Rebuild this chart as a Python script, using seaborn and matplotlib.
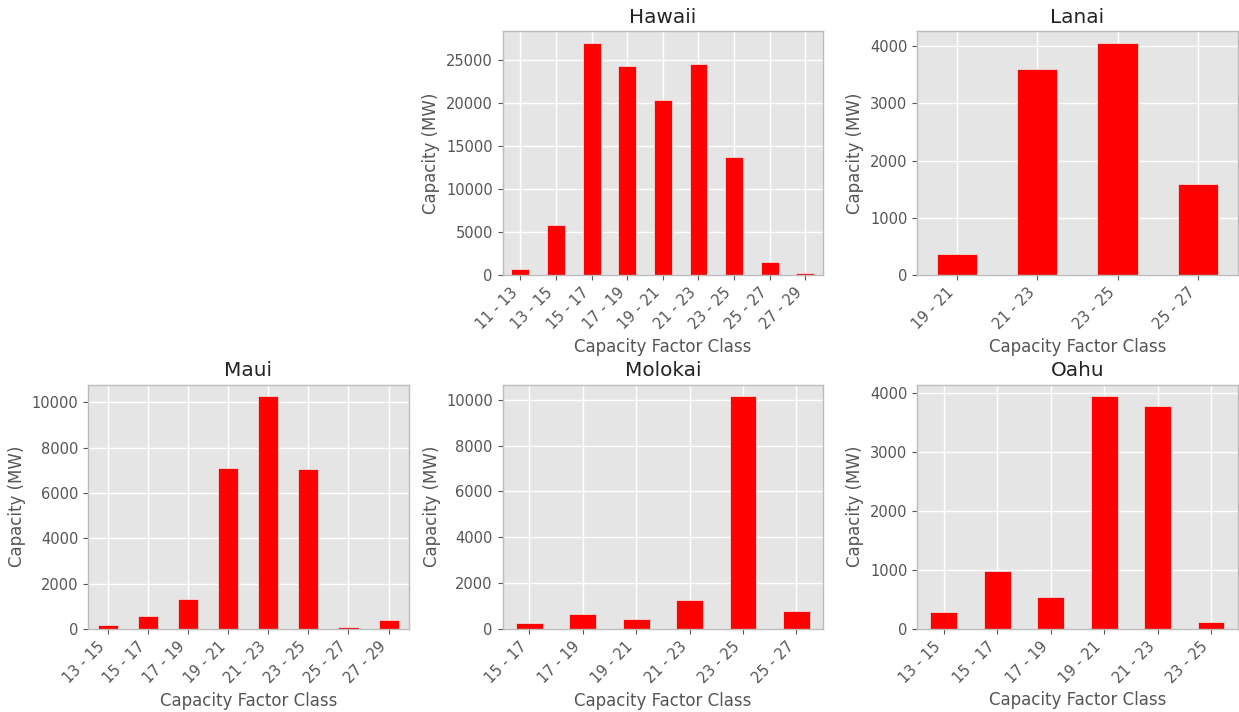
import seaborn as sns
import matplotlib.pyplot as plt
from matplotlib.ticker import MaxNLocator
import pandas as pd

# Capacity by capacity factor class for each island
hawaii_classes = ['11 - 13', '13 - 15', '15 - 17', '17 - 19', '19 - 21',
                  '21 - 23', '23 - 25', '25 - 27', '27 - 29']
hawaii_mw = [770, 5860, 26970, 24270, 20330, 24460, 13770, 1580, 310]

lanai_classes = ['19 - 21', '21 - 23', '23 - 25', '25 - 27']
lanai_mw = [377, 3600, 4058, 1597]

maui_classes = ['13 - 15', '15 - 17', '17 - 19', '19 - 21',
                '21 - 23', '23 - 25', '25 - 27', '27 - 29']
maui_mw = [190, 560, 1340, 7110, 10260, 7050, 75, 380]

molokai_classes = ['15 - 17', '17 - 19', '19 - 21', '21 - 23', '23 - 25', '25 - 27']
molokai_mw = [250, 670, 440, 1280, 10150, 800]

oahu_classes = ['13 - 15', '15 - 17', '17 - 19', '19 - 21', '21 - 23', '23 - 25']
oahu_mw = [288, 983, 542, 3938, 3774, 124]

islands = ['Hawaii', 'Lanai', 'Maui', 'Molokai', 'Oahu']
classes = [hawaii_classes, lanai_classes, maui_classes, molokai_classes, oahu_classes]
values = [hawaii_mw, lanai_mw, maui_mw, molokai_mw, oahu_mw]

plt.style.use('ggplot')
plt.rcParams['font.family'] = ['DejaVu Sans']

fig, axes = plt.subplots(2, 3, figsize=(12.39, 7.12), dpi=100)
plt.subplots_adjust(left=0.071, right=0.999, top=0.9565, bottom=0.1166,
                    wspace=0.293, hspace=0.447)

axes[0, 0].axis('off')

for ax, name, cats, vals in zip(axes.flat[1:], islands, classes, values):
    df = pd.DataFrame({'cf_class': cats, 'capacity': vals})
    sns.barplot(data=df, x='cf_class', y='capacity', color='red', saturation=1,
                width=0.5, edgecolor='#EEEEEE', linewidth=0.5, ax=ax)
    ax.grid(True, color='white', linewidth=1)
    ax.set_axisbelow(True)
    ax.set_xlim(-0.5, len(cats) - 0.5)
    ax.yaxis.set_major_locator(MaxNLocator(nbins=6, steps=[1, 2, 2.5, 5, 10]))
    ax.set_title(name, fontsize=14.4, color='#222222')
    ax.set_xlabel('Capacity Factor Class', fontsize=12, color='#555555')
    ax.set_ylabel('Capacity (MW)', fontsize=12, color='#555555')
    ax.tick_params(axis='both', labelsize=10.5, colors='#555555')
    plt.setp(ax.get_xticklabels(), rotation=45, ha='right')
    for s in ax.spines.values():
        s.set_visible(True)
        s.set_color('#BCBCBC')
        s.set_linewidth(1)

plt.savefig('out.png', dpi=100)
